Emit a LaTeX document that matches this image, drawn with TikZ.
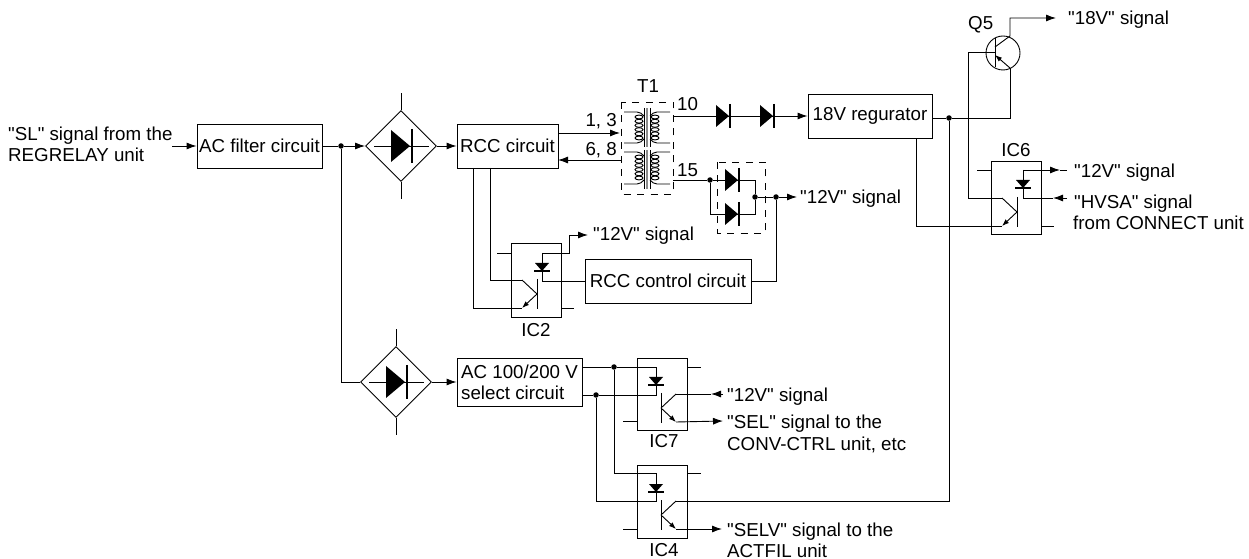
\documentclass[tikz,border=0pt]{standalone}
\usepackage{fontspec}
\newfontfamily\plainsans{Liberation Sans}
\usetikzlibrary{arrows.meta,shapes.geometric}
\tikzset{
  wire/.style={line width=0.9bp},
  blk/.style={draw,line width=0.9bp,inner sep=0pt,align=left,font=\plainsans\fontsize{18.8}{21}\selectfont},
  lbl/.style={inner sep=0pt,anchor=base west,font=\plainsans\fontsize{18.8}{21}\selectfont},
  clbl/.style={lbl,anchor=base},
  rlbl/.style={lbl,anchor=base east},
  jdot/.style={circle,fill=black,inner sep=0pt,minimum size=5.5bp},
  tip/.style={-{Latex[length=10bp,width=7bp]}},
  smalltip/.style={-{Latex[length=7bp,width=5bp]}},
  dashbox/.style={line width=0.9bp,dash pattern=on 7bp off 6.5bp},
}
% diode pointing right
\newcommand{\diodeR}[2]{%
  \fill (#1-7,#2-11) -- (#1+6,#2) -- (#1-7,#2+11) -- cycle;
  \draw[line width=1.6bp] (#1+7,#2-12) -- (#1+7,#2+12);}
% bridge: diamond with stubs and diode
\newcommand{\bridge}[3]{%
  \node[draw,line width=0.9bp,diamond,minimum width=71bp,minimum height=71bp,inner sep=0pt] (#3) at (#1,#2) {};
  \draw[wire] (#3.north) -- (#1,#2-53);
  \draw[wire] (#3.south) -- (#1,#2+53);
  \draw[wire] (#1-27,#2) -- (#1+28,#2);
  \fill (#1-10,#2-16) -- (#1+9,#2) -- (#1-10,#2+16) -- cycle;
  \draw[line width=1.6bp] (#1+11,#2-17) -- (#1+11,#2+17);}
% coupler diode pointing down
\newcommand{\ledD}[2]{%
  \fill (#1-7,#2-8) -- (#1+7,#2-8) -- (#1,#2) -- cycle;
  \draw[line width=1.6bp] (#1-8,#2) -- (#1+8,#2);}
% coupler transistor: name, bar x, middle y, direction
\newcommand{\photoT}[4]{%
  \coordinate (#1-c) at (#2+#4*15,#3-14);
  \coordinate (#1-e) at (#2+#4*15,#3+14);
  \coordinate (#1-m) at (#2,#3);
  \draw[wire] (#2,#3-15) -- (#2,#3+15);
  \draw[wire] (#1-m) -- (#1-c);
  \draw[wire,smalltip] (#1-m) -- (#1-e);}
% windings of T1
\newcommand{\winding}[2]{%
  \foreach \k in {0,...,5} {
    \draw[line width=0.9bp] (#1,#2+\k*4.2) ellipse (4bp and 1.9bp);
  }}
\begin{document}
\begin{tikzpicture}[x=1bp,y=-1bp]
\useasboundingbox (0,0) rectangle (1249,559);
% input side
\node[lbl] (txtsl) at (8,141) {"SL" signal from the};
\node[lbl] (txtreg) at (8,162) {REGRELAY unit};
\node[blk,minimum width=125bp,minimum height=44bp,align=center] (acfilter) at (259.5,146) {AC filter circuit};
\coordinate (slin) at (172,146);
\draw[wire,tip] (slin) -- (acfilter.west);
\node[jdot] (j1) at (341,146) {};
\bridge{401}{146}{brg1}
\bridge{396}{382}{brg2}
\draw[wire] (acfilter.east) -- (j1);
\draw[wire,tip] (j1) -- (brg1.west);
\draw[wire] (j1) |- (brg2.west);
% RCC circuit
\node[blk,minimum width=101bp,minimum height=44bp,align=center] (rcc) at (507.5,146) {RCC circuit};
\draw[wire,tip] (brg1.east) -- (rcc.west);
% T1
\node[clbl] (t1lbl) at (648,93) {T1};
\draw[dashbox] (621,102) rectangle (673,194);
\foreach \y/\h in {112/31,152/32} {
  \draw[wire] (624,\y) -- (637,\y) to[out=0,in=135] (644,\y+4);
  \draw[wire] (670,\y) -- (657,\y) to[out=180,in=45] (650,\y+4);
  \draw[wire] (624,\y+\h) -- (637,\y+\h) to[out=0,in=-135] (644,\y+\h-4);
  \draw[wire] (670,\y+\h) -- (657,\y+\h) to[out=180,in=-45] (650,\y+\h-4);
}
\draw[line width=0.9bp] (644,108) -- (644,147) (650,108) -- (650,147);
\draw[line width=0.9bp] (644,150) -- (644,189) (650,150) -- (650,189);
\draw[line width=1.6bp,black!45] (647,108) -- (647,147) (647,150) -- (647,189);
\winding{639}{117}
\winding{655}{117}
\winding{639}{157}
\winding{655}{157}
\coordinate (t1a) at (620,133);
\coordinate (t1b) at (621,160);
\coordinate (t1c) at (673,116);
\coordinate (t1d) at (673,180);
\coordinate (rcca) at (558,133);
\coordinate (rccb) at (558,160);
\draw[wire,tip] (rcca) -- (t1a);
\draw[wire,tip] (t1b) -- (rccb);
\node[rlbl] (pin13) at (617,127) {1, 3};
\node[rlbl] (pin68) at (617,156) {6, 8};
\node[lbl] (pin10) at (677,111) {10};
\node[lbl] (pin15) at (677,177) {15};
% 18V regurator
\node[blk,minimum width=124bp,minimum height=44bp,align=center] (reg) at (870,116) {18V regurator};
\diodeR{723}{116}
\diodeR{767}{116}
\draw[wire,tip] (t1c) -- (reg.west);
% Q5
\node[draw,circle,line width=0.9bp,minimum size=34bp,inner sep=0pt] (q5) at (1003,53) {};
\node[lbl] (q5lbl) at (968,30) {Q5};
\coordinate (q5c) at (1010,36);
\coordinate (q5e) at (1010,68);
\coordinate (q5b) at (995,52);
\coordinate (q5m) at (995,47);
\coordinate (q5n) at (995,55);
\coordinate (sig18) at (1056,18);
\coordinate (regout) at (932,118);
\coordinate (regleg) at (916,138);
\node[jdot] (j2) at (949,118) {};
\draw[wire] (995,38) -- (995,67);
\draw[wire,tip] (q5m) -- (q5c) |- (sig18);
\draw[wire,smalltip] (q5e) -- (q5n);
\draw[wire] (regout) -- (j2) -| (q5e);
\node[lbl] (txt18) at (1068,25) {"18V" signal};
% IC6
\node[blk,minimum width=50bp,minimum height=73bp] (ic6) at (1016,197.5) {};
\node[clbl] (ic6lbl) at (1016,157) {IC6};
\photoT{tr6}{1017}{212}{-1}
\ledD{1023}{188}
\draw[wire] (977,170) -- (ic6.west |- 977,170);
\draw[wire] (ic6.east |- 1054,226) -- (1054,226);
\draw[wire] (q5b) -| (968,198) -- (tr6-c);
\draw[wire] (tr6-e) -| (regleg);
\coordinate (led6a) at (1023,170);
\coordinate (led6b) at (1023,198);
\draw[wire,tip] (led6a) -- (1060,170);
\draw[wire] (1060,170) -- (1067,170);
\draw[wire] (led6a) -- (led6b);
\draw[wire,tip] (1067,198) -- (1053,198);
\draw[wire] (1053,198) -- (led6b);
\node[lbl] (txt12a) at (1074,178) {"12V" signal};
\node[lbl] (txthv) at (1074,209) {"HVSA" signal};
\node[lbl] (txtcon) at (1073,230) {from CONNECT unit};
% output diodes
\draw[dashbox] (717,162) rectangle (765,233);
\diodeR{732}{180}
\diodeR{732}{214}
\node[jdot] (j3) at (710,180) {};
\node[jdot] (j4) at (755,197) {};
\node[jdot] (j5) at (776,197) {};
\coordinate (sig12) at (797,197);
\draw[wire] (t1d) -- (j3) -- (755,180) -- (j4);
\draw[wire] (j3) |- (755,214) -- (j4);
\draw[wire] (j4) -- (j5);
\draw[wire,tip] (j5) -- (sig12);
\node[lbl] (txt12b) at (800,204) {"12V" signal};
% RCC control circuit and IC2
\node[blk,minimum width=166bp,minimum height=44bp,align=center] (ctrl) at (668,281) {RCC control circuit};
\draw[wire] (j5) |- (ctrl.east);
\node[blk,minimum width=50bp,minimum height=74bp] (ic2) at (536,280) {};
\node[clbl] (ic2lbl) at (536,337) {IC2};
\photoT{tr2}{537}{294}{-1}
\ledD{542}{271}
\draw[wire] (497,253) -- (ic2.west |- 497,253);
\draw[wire] (ic2.east |- 574,308) -- (574,308);
\coordinate (rccc) at (473,168);
\coordinate (rccd) at (490,168);
\draw[wire] (rccd) |- (tr2-c);
\draw[wire] (rccc) |- (tr2-e);
\coordinate (led2a) at (542,253);
\draw[wire,tip] (led2a) -- (569,253) |- (588,235);
\draw[wire] (led2a) |- (ctrl.west);
\node[lbl] (txt12c) at (593,241) {"12V" signal};
% AC 100/200 V select circuit
\node[blk,minimum width=125bp,minimum height=48bp] (sel) at (519.5,382) {AC 100/200 V\\select circuit};
\draw[wire,tip] (brg2.east) -- (sel.west);
\coordinate (sela) at (582,367);
\coordinate (selb) at (582,395);
\node[jdot] (j6) at (614,367) {};
\node[jdot] (j7) at (596,395) {};
% IC7
\node[blk,minimum width=50bp,minimum height=72bp] (ic7) at (662,394) {};
\node[clbl] (ic7lbl) at (664,447) {IC7};
\photoT{tr7}{661}{408}{1}
\ledD{656}{385}
\draw[wire] (sela) -- (j6) -- (656,367) -- (656,395) -- (j7) -- (selb);
\draw[wire] (ic7.east |- 701,367) -- (701,367);
\draw[wire] (623,421) -- (ic7.west |- 623,421);
\draw[wire,tip] (723,394) -- (711,394);
\draw[wire] (711,394) -- (tr7-c);
\draw[wire,tip] (tr7-e) -- (723,421);
\node[lbl] (txt12d) at (727,401) {"12V" signal};
\node[lbl] (txtsel) at (727,428) {"SEL" signal to the};
\node[lbl] (txtconv) at (727,450) {CONV-CTRL unit, etc};
% IC4
\node[blk,minimum width=50bp,minimum height=73bp] (ic4) at (662,501.5) {};
\node[clbl] (ic4lbl) at (664,556) {IC4};
\photoT{tr4}{661}{515}{1}
\ledD{656}{492}
\draw[wire] (j6) |- (656,473) -- (656,501) -| (j7);
\draw[wire] (ic4.east |- 701,473) -- (701,473);
\draw[wire] (623,529) -- (ic4.west |- 623,529);
\draw[wire] (j2) |- (tr4-c);
\draw[wire,tip] (tr4-e) -- (722,529);
\node[lbl] (txtselv) at (727,536) {"SELV" signal to the};
\node[lbl] (txtact) at (727,557) {ACTFIL unit};
\end{tikzpicture}
\end{document}
